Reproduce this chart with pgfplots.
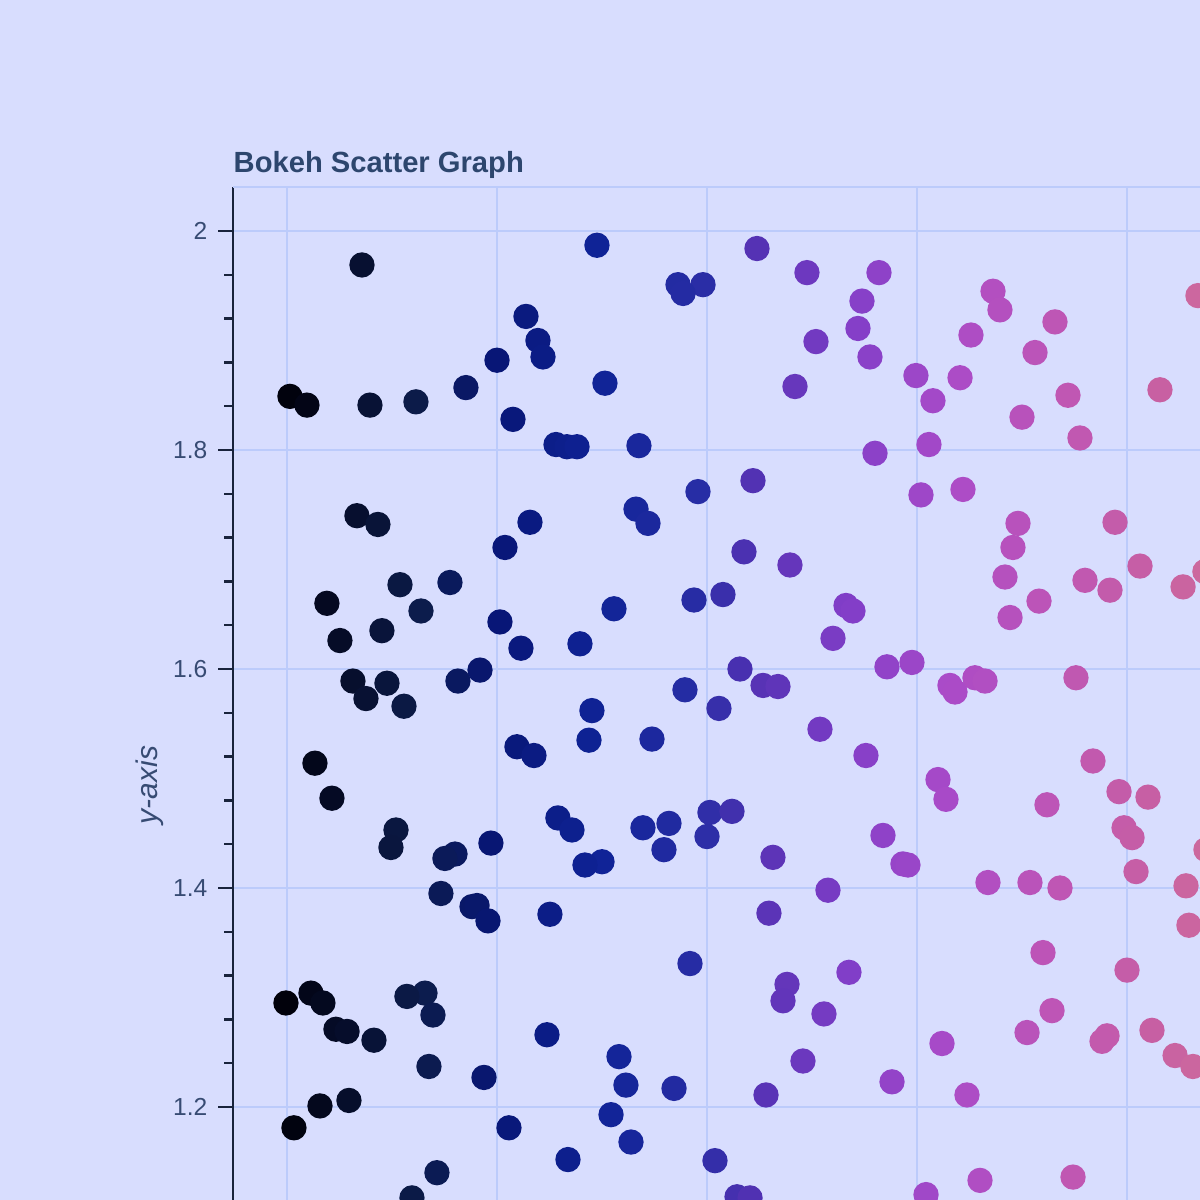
\documentclass[border=0pt]{standalone}
\usepackage{fontspec}
\setmainfont{Liberation Sans}
\usepackage{pgfplots}
\usepackage{pgfplotstable}
\pgfplotsset{compat=1.18}
\definecolor{bg}{RGB}{216,221,254}
\definecolor{gridc}{RGB}{188,203,251}
\definecolor{axc}{RGB}{25,35,60}
\definecolor{tickc}{RGB}{55,75,115}
\definecolor{titlec}{RGB}{45,70,110}
\pgfplotstableread{
x y
1.476 1.987
2.238 1.984
0.357 1.969
2.476 1.962
2.819 1.962
1.862 1.951
1.981 1.951
1.886 1.943
3.362 1.945
4.338 1.941
2.738 1.936
3.395 1.928
1.138 1.922
3.657 1.917
2.719 1.911
3.257 1.905
1.195 1.900
2.519 1.899
3.562 1.889
1.219 1.885
2.776 1.885
1.000 1.882
2.995 1.868
3.205 1.866
1.514 1.861
0.852 1.857
2.419 1.858
4.157 1.855
0.014 1.849
3.719 1.850
0.095 1.841
0.395 1.841
0.614 1.844
3.076 1.845
3.500 1.830
1.076 1.828
3.776 1.811
3.057 1.805
1.281 1.805
1.333 1.803
1.381 1.803
1.676 1.804
2.800 1.797
2.219 1.772
3.219 1.764
1.957 1.762
3.019 1.759
1.662 1.746
0.333 1.740
0.433 1.732
1.157 1.734
1.719 1.733
3.481 1.733
3.943 1.734
1.038 1.711
3.457 1.711
2.176 1.707
2.395 1.695
4.062 1.694
3.419 1.684
3.800 1.681
3.919 1.672
4.267 1.675
4.371 1.689
0.538 1.677
0.776 1.679
0.190 1.660
1.557 1.655
1.938 1.663
2.076 1.668
3.581 1.662
0.638 1.653
2.662 1.658
2.695 1.653
3.443 1.647
1.014 1.643
0.452 1.635
2.600 1.628
0.252 1.626
1.395 1.623
1.114 1.619
2.976 1.606
2.857 1.602
0.919 1.599
2.157 1.600
3.276 1.592
3.324 1.589
3.757 1.592
0.314 1.589
0.814 1.589
0.476 1.587
2.267 1.585
2.338 1.584
1.895 1.581
3.157 1.585
3.181 1.579
0.376 1.573
0.557 1.566
2.057 1.564
1.452 1.562
2.538 1.545
1.738 1.536
1.438 1.535
1.095 1.529
1.176 1.521
2.757 1.521
3.838 1.516
0.133 1.514
3.100 1.499
3.962 1.488
4.100 1.483
0.214 1.482
3.138 1.481
3.619 1.476
2.014 1.469
2.119 1.470
1.290 1.464
1.819 1.459
3.986 1.455
1.695 1.455
0.519 1.453
1.357 1.453
2.838 1.448
2.000 1.447
4.024 1.446
0.971 1.441
0.495 1.437
1.795 1.435
4.376 1.435
0.800 1.431
0.752 1.427
2.314 1.428
1.500 1.424
1.419 1.421
2.933 1.422
2.957 1.421
4.043 1.415
3.338 1.405
3.538 1.405
4.281 1.402
3.681 1.400
2.576 1.398
0.733 1.395
0.881 1.383
0.905 1.384
2.295 1.377
1.252 1.376
0.957 1.370
4.295 1.366
3.600 1.341
1.919 1.331
4.000 1.325
2.676 1.323
2.381 1.312
0.114 1.304
0.657 1.304
0.571 1.301
2.362 1.297
-0.005 1.295
0.171 1.295
3.643 1.288
2.557 1.285
0.695 1.284
0.233 1.271
0.286 1.269
4.119 1.270
3.524 1.268
1.238 1.266
3.905 1.265
3.881 1.260
0.414 1.261
3.119 1.258
4.229 1.247
1.581 1.246
2.457 1.242
4.314 1.237
0.676 1.237
0.938 1.227
2.881 1.223
1.614 1.220
1.843 1.217
2.281 1.211
3.238 1.211
0.295 1.206
0.157 1.201
1.543 1.193
0.033 1.181
1.057 1.181
1.638 1.168
1.338 1.152
2.038 1.151
0.714 1.140
3.743 1.136
3.300 1.133
3.043 1.120
0.595 1.117
2.143 1.118
2.205 1.117
}\pts
\begin{document}
\begin{tikzpicture}
\useasboundingbox (0,0) rectangle (12cm,12cm);
\fill[bg] (0,0) rectangle (12cm,12cm);
\clip (0,0) rectangle (12cm,12cm);
\begin{axis}[
  at={(2.33cm,10.13cm)}, anchor=north west,
  scale only axis, width=10.17cm, height=10.63cm,
  xmin=-0.25714, xmax=4.5857, ymin=1.0694, ymax=2.0402,
  axis x line*=bottom, axis y line*=left,
  axis line style={-, draw=axc, line width=0.75pt},
  ytick={1.2,1.4,1.6,1.8,2}, xtick={0,1,2,3,4},
  minor y tick num=4,
  tick align=outside,
  major tick length=0.15cm, minor tick length=0.09cm,
  every tick/.style={draw=axc, line width=0.7pt},
  grid=major, major grid style={draw=gridc, line width=0.57pt},
  yticklabel style={font=\fontsize{7}{8}\selectfont, text=tickc, inner sep=0pt, xshift=-0.1cm},
  xticklabels={},
  /pgf/number format/assume math mode=true,
  title={Bokeh Scatter Graph},
  title style={at={(0,1)}, anchor=base west, inner sep=0pt, yshift=-0.07cm, font=\bfseries\fontsize{8.3}{10}\selectfont, text=titlec},
  ylabel={y-axis},
  every axis y label/.style={at={([xshift=-0.83cm]axis description cs:0,0.4374)}, rotate=90, anchor=center, font=\itshape\fontsize{8.5}{10}\selectfont, text=tickc},
  colormap={bmw}{rgb255(0cm)=(0,0,8); rgb255(0.235cm)=(5,10,35); rgb255(0.663cm)=(12,28,75); rgb255(1.03cm)=(8,22,118); rgb255(1.506cm)=(15,35,150); rgb255(1.997cm)=(40,45,165); rgb255(2.268cm)=(85,50,180); rgb255(2.711cm)=(130,62,200); rgb255(3.187cm)=(170,75,200); rgb255(3.663cm)=(190,85,182); rgb255(4.187cm)=(200,96,162); rgb255(4.43cm)=(205,105,158)},
  point meta min=-0.03, point meta max=4.4,
]
\draw[gridc, line width=0.57pt] (rel axis cs:0,1) -- (rel axis cs:1,1);
\addplot[scatter, only marks, mark=*, mark size=3.4pt,
  scatter/use mapped color={draw=mapped color, fill=mapped color},
  point meta=x] table {\pts};
\end{axis}
\end{tikzpicture}
\end{document}
